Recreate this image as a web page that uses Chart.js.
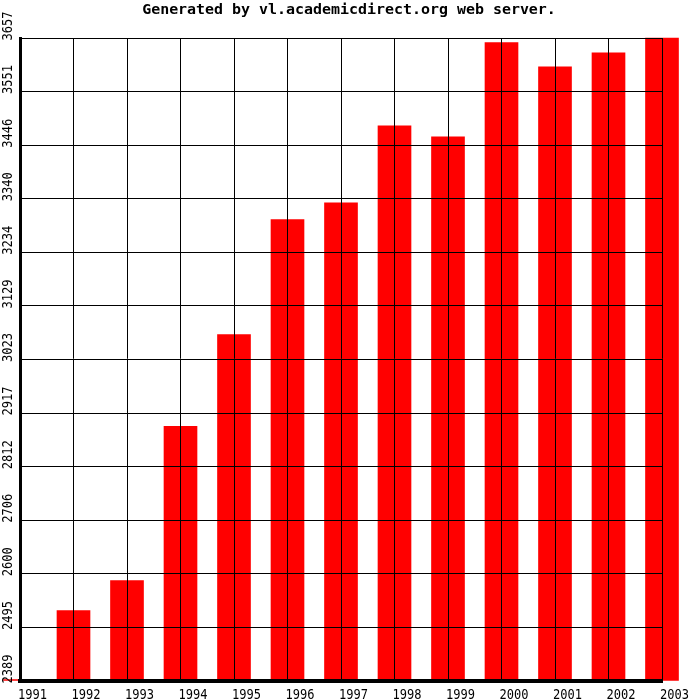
<!DOCTYPE html>
<html>
<head>
<meta charset="utf-8">
<script src="https://cdn.jsdelivr.net/npm/chart.js@4"></script>
<style>
  html, body { margin: 0; padding: 0; background: #fff; }
  #wrap { width: 700px; height: 700px; }
</style>
</head>
<body>
<div id="wrap"><canvas id="myChart" width="700" height="700"></canvas></div>
<script>
// data
const years = ['1991','1992','1993','1994','1995','1996','1997','1998','1999','2000','2001','2002','2003'];
const values = [2392, 2528, 2587, 2891, 3072, 3299, 3332, 3484, 3462, 3648, 3600, 3628, 3657];
const yTickLabels = ['2389','2495','2600','2706','2812','2917','3023','3129','3234','3340','3446','3551','3657'];
const yMin = 2389, yMax = 3657;
const titleText = 'Generated by vl.academicdirect.org web server.';

// draw text squeezed / stretched along its direction
function drawText(c, text, x, y, rot, sx) {
    c.save();
    c.translate(x, y);
    if (rot) c.rotate(rot);
    c.scale(sx, 1);
    c.fillText(text, 0, 0);
    c.restore();
}

// axis labels + title, drawn from the scales
const labelPlugin = {
    id: 'labels',
    afterDraw(chart) {
        const c = chart.ctx;
        const xs = chart.scales.x, ys = chart.scales.y;
        c.save();
        c.fillStyle = '#000';
        c.textBaseline = 'alphabetic';

        // title
        c.font = 'bold 14px "DejaVu Sans Mono"';
        c.textAlign = 'center';
        drawText(c, titleText, 349, 14, 0, 1.067);

        // x labels, left aligned on their grid line
        c.font = '14px "DejaVu Sans Mono"';
        c.textAlign = 'left';
        years.forEach((yr, i) => {
            drawText(c, yr, xs.getPixelForTick(i) - 2, 699, 0, 0.86);
        });

        // y labels, vertical, starting just under their grid line
        yTickLabels.forEach((lab, i) => {
            const py = ys.getPixelForTick(i);
            drawText(c, lab, 12, py + 2.5, -Math.PI / 2, 0.86);
        });
        c.restore();
    }
};

const ctx = document.getElementById('myChart').getContext('2d');
const myChart = new Chart(ctx, {
    type: 'bar',
    data: {
        labels: years,
        datasets: [{
            data: values,
            base: yMin,
            backgroundColor: '#ff0000',
            borderWidth: 0,
            barThickness: 33,
            clip: false
        }]
    },
    options: {
        responsive: false,
        animation: false,
        layout: { padding: { left: 20, right: 38, top: 38, bottom: 19 } },
        plugins: {
            legend: { display: false },
            title: { display: false },
            tooltip: { enabled: false }
        },
        scales: {
            x: {
                type: 'category',
                offset: false,
                grid: { offset: false, color: '#000', lineWidth: 1, drawTicks: false, z: 1 },
                border: { color: '#000', width: 4, z: 2 },
                ticks: { display: false }
            },
            y: {
                min: yMin,
                max: yMax,
                afterBuildTicks(scale) {
                    const step = (yMax - yMin) / (yTickLabels.length - 1);
                    scale.ticks = yTickLabels.map((l, i) => ({ value: yMin + i * step }));
                },
                grid: { color: '#000', lineWidth: 1, drawTicks: false, z: 1 },
                border: { color: '#000', width: 3, z: 2 },
                ticks: { display: false }
            }
        }
    },
    plugins: [labelPlugin]
});
</script>
</body>
</html>
